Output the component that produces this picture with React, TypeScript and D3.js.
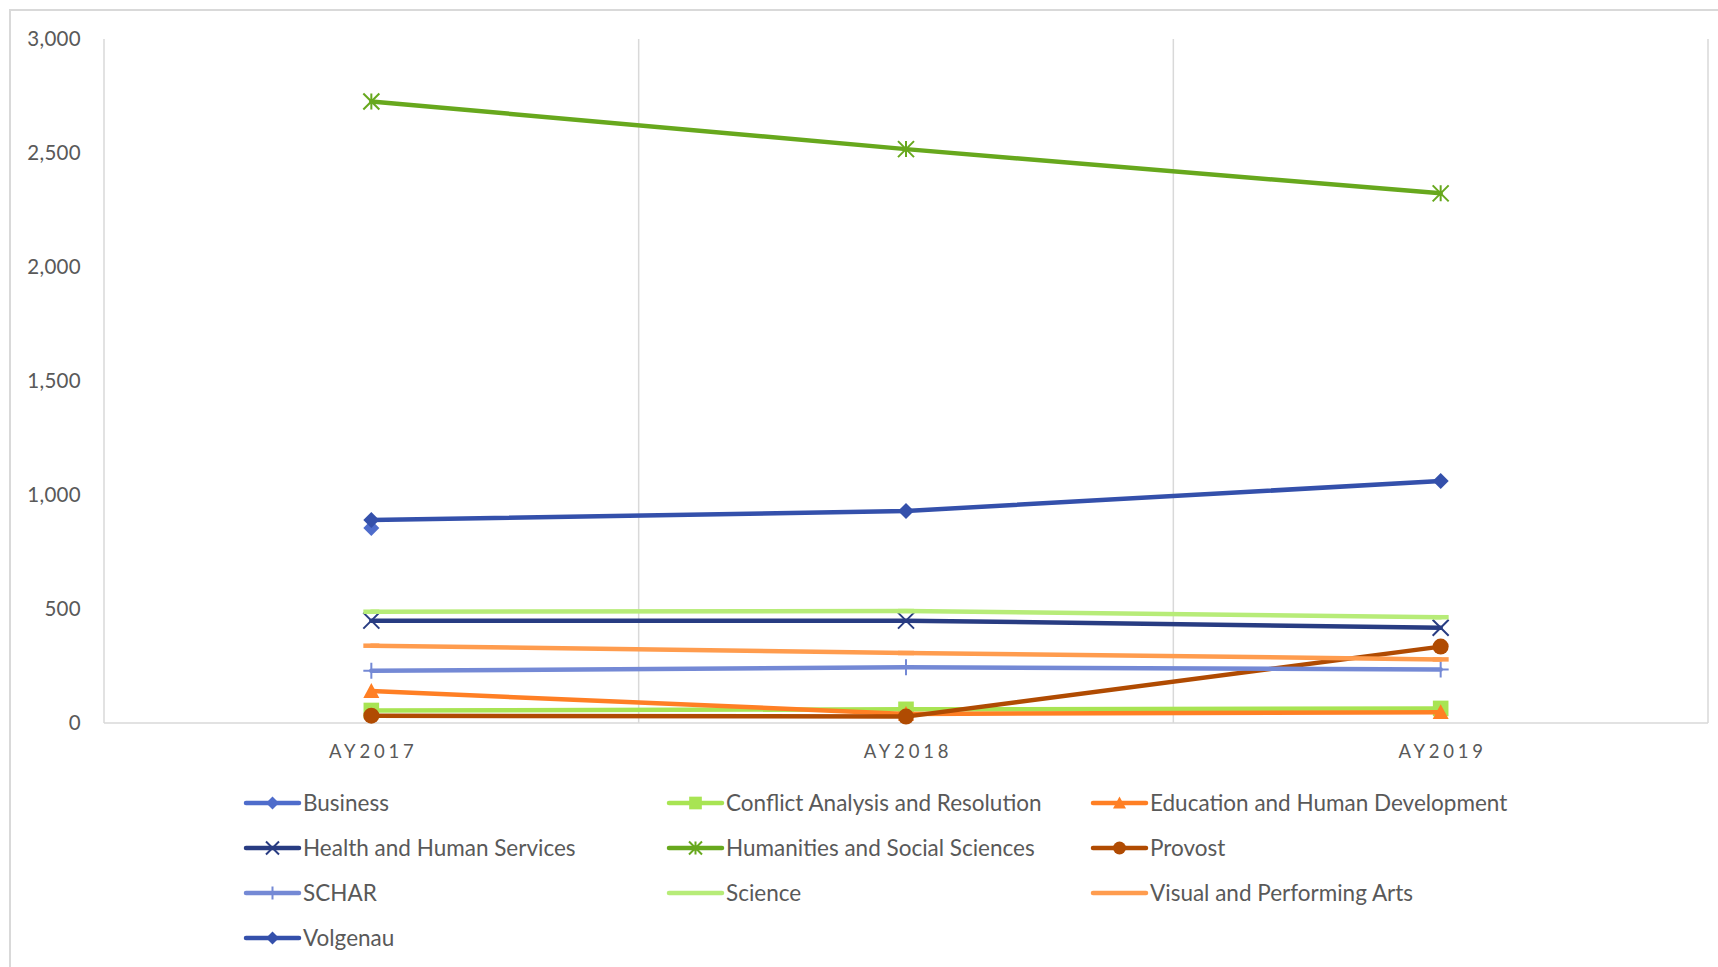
import React, { useEffect, useRef } from "react";
import * as d3 from "d3";

const categories = ["AY2017", "AY2018", "AY2019"];
const yTicks = [0, 500, 1000, 1500, 2000, 2500, 3000];

const seriesNames = [
  "Business",
  "Conflict Analysis and Resolution",
  "Education and Human Development",
  "Health and Human Services",
  "Humanities and Social Sciences",
  "Provost",
  "SCHAR",
  "Science",
  "Visual and Performing Arts",
  "Volgenau",
];

const business = [855, null, null];
const conflict = [55, 60, 64];
const education = [140, 40, 47];
const health = [449, 449, 418];
const humanities = [2726, 2517, 2323];
const provost = [32, 28, 335];
const schar = [229, 244, 235];
const science = [488, 491, 464];
const visualArts = [339, 307, 279];
const volgenau = [890, 930, 1061];

const seriesValues = [business, conflict, education, health, humanities, provost, schar, science, visualArts, volgenau];
const seriesColors = ["#4E6CCB", "#A8E453", "#FF7F24", "#283C82", "#67A81D", "#B04B02", "#7489D5", "#B7EC78", "#FF9C4E", "#3450AB"];
const seriesMarkers = ["diamond", "square", "triangle", "x", "star", "circle", "plus", "dash", "dash", "diamond"];

const W = 1718;
const H = 967;

function markerPath(kind: string, s: number): { d: string; fill: boolean } {
  const h = s / 2;
  switch (kind) {
    case "diamond":
      return { d: `M0,${-h}L${h},0L0,${h}L${-h},0Z`, fill: true };
    case "square":
      return { d: d3.symbol(d3.symbolSquare, s * s * 0.95)() as string, fill: true };
    case "triangle":
      return { d: `M0,${-h}L${h},${h * 0.85}L${-h},${h * 0.85}Z`, fill: true };
    case "circle":
      return { d: d3.symbol(d3.symbolCircle, Math.PI * h * h)() as string, fill: true };
    case "x":
      return { d: `M${-h},${-h}L${h},${h}M${h},${-h}L${-h},${h}`, fill: false };
    case "plus":
      return { d: `M${-h},0L${h},0M0,${-h}L0,${h}`, fill: false };
    case "star":
      return { d: `M${-h},${-h}L${h},${h}M${h},${-h}L${-h},${h}M0,${-h}L0,${h}`, fill: false };
    default:
      return { d: `M${-h},0L${h},0`, fill: false };
  }
}

export default function App() {
  const ref = useRef<SVGSVGElement | null>(null);

  useEffect(() => {
    const svg = d3.select(ref.current);
    svg.selectAll("*").remove();

    const left = 104, right = 1708, top = 39, bottom = 723;
    const x = d3.scaleBand<string>().domain(categories).range([left, right]);
    const y = d3.scaleLinear().domain([0, 3000]).range([bottom, top]);
    const cx = (c: string) => (x(c) as number) + x.bandwidth() / 2;

    // chart border
    svg.append("rect").attr("x", 10).attr("y", 10).attr("width", W).attr("height", H)
      .attr("fill", "#fff").attr("stroke", "#D9D9D9").attr("stroke-width", 2);

    // vertical gridlines at category boundaries
    const bounds = [...categories.map((c) => x(c) as number), right];
    svg.append("g").selectAll("line").data(bounds).join("line")
      .attr("x1", (d) => d).attr("x2", (d) => d)
      .attr("y1", top).attr("y2", bottom)
      .attr("stroke", "#D9D9D9").attr("stroke-width", 1.5);

    // horizontal axis line
    svg.append("line").attr("x1", left).attr("x2", right).attr("y1", bottom).attr("y2", bottom)
      .attr("stroke", "#D9D9D9").attr("stroke-width", 1.5);

    // y tick labels
    svg.append("g").selectAll("text").data(yTicks).join("text")
      .attr("x", 81).attr("y", (d) => y(d)).attr("dy", "0.35em")
      .attr("text-anchor", "end")
      .attr("font-family", "Lato, 'Open Sans', sans-serif").attr("font-size", 20.5)
      .attr("letter-spacing", 0.3)
      .attr("fill", "#595959")
      .text((d) => d3.format(",")(d));

    // x labels
    svg.append("g").selectAll("text").data(categories).join("text")
      .attr("x", (d) => cx(d) + 2).attr("y", 758)
      .attr("text-anchor", "middle")
      .attr("font-family", "Lato, 'Open Sans', sans-serif").attr("font-size", 18.5)
      .attr("letter-spacing", 3.8)
      .attr("fill", "#595959")
      .text((d) => d);

    // series lines + markers
    seriesNames.forEach((name, i) => {
      const vals = seriesValues[i];
      const pts = categories.map((c, j) => ({ c, v: vals[j] })).filter((p) => p.v !== null) as { c: string; v: number }[];
      const line = d3.line<{ c: string; v: number }>().x((p) => cx(p.c)).y((p) => y(p.v));
      const g = svg.append("g");
      if (pts.length > 1) {
        g.append("path").attr("d", line(pts) as string).attr("fill", "none")
          .attr("stroke", seriesColors[i]).attr("stroke-width", 4.5)
          .attr("stroke-linecap", "round").attr("stroke-linejoin", "round");
      }
      const m = markerPath(seriesMarkers[i], 16);
      g.selectAll("path.mk").data(pts).join("path").attr("class", "mk")
        .attr("transform", (p) => `translate(${cx(p.c)},${y(p.v)})`)
        .attr("d", m.d)
        .attr("fill", m.fill ? seriesColors[i] : "none")
        .attr("stroke", seriesColors[i])
        .attr("stroke-width", m.fill ? 0 : (seriesMarkers[i] === "dash" ? 4.5 : 2));
    });

    // legend
    const colX = [246, 669, 1093];
    const rowY = [803, 848, 893, 938];
    seriesNames.forEach((name, i) => {
      const col = i % 3, row = Math.floor(i / 3);
      const lx = colX[col], ly = rowY[row];
      const g = svg.append("g").attr("transform", `translate(${lx},${ly})`);
      g.append("line").attr("x1", 0).attr("x2", 53).attr("y1", 0).attr("y2", 0)
        .attr("stroke", seriesColors[i]).attr("stroke-width", 4.5).attr("stroke-linecap", "round");
      if (seriesMarkers[i] !== "dash") {
        const m = markerPath(seriesMarkers[i], 13);
        g.append("path").attr("transform", "translate(26.5,0)").attr("d", m.d)
          .attr("fill", m.fill ? seriesColors[i] : "none")
          .attr("stroke", seriesColors[i]).attr("stroke-width", m.fill ? 0 : 2);
      }
      g.append("text").attr("x", 57).attr("y", 0).attr("dy", "0.35em")
        .attr("font-family", "Lato, 'Open Sans', sans-serif").attr("font-size", 22.5)
        .attr("fill", "#595959")
        .text(name);
    });
  }, []);

  return (
    <div style={{ position: "absolute", left: 0, top: 0, width: W, height: H, overflow: "hidden", background: "#fff" }}>
      <svg ref={ref} width={W} height={H} />
    </div>
  );
}
